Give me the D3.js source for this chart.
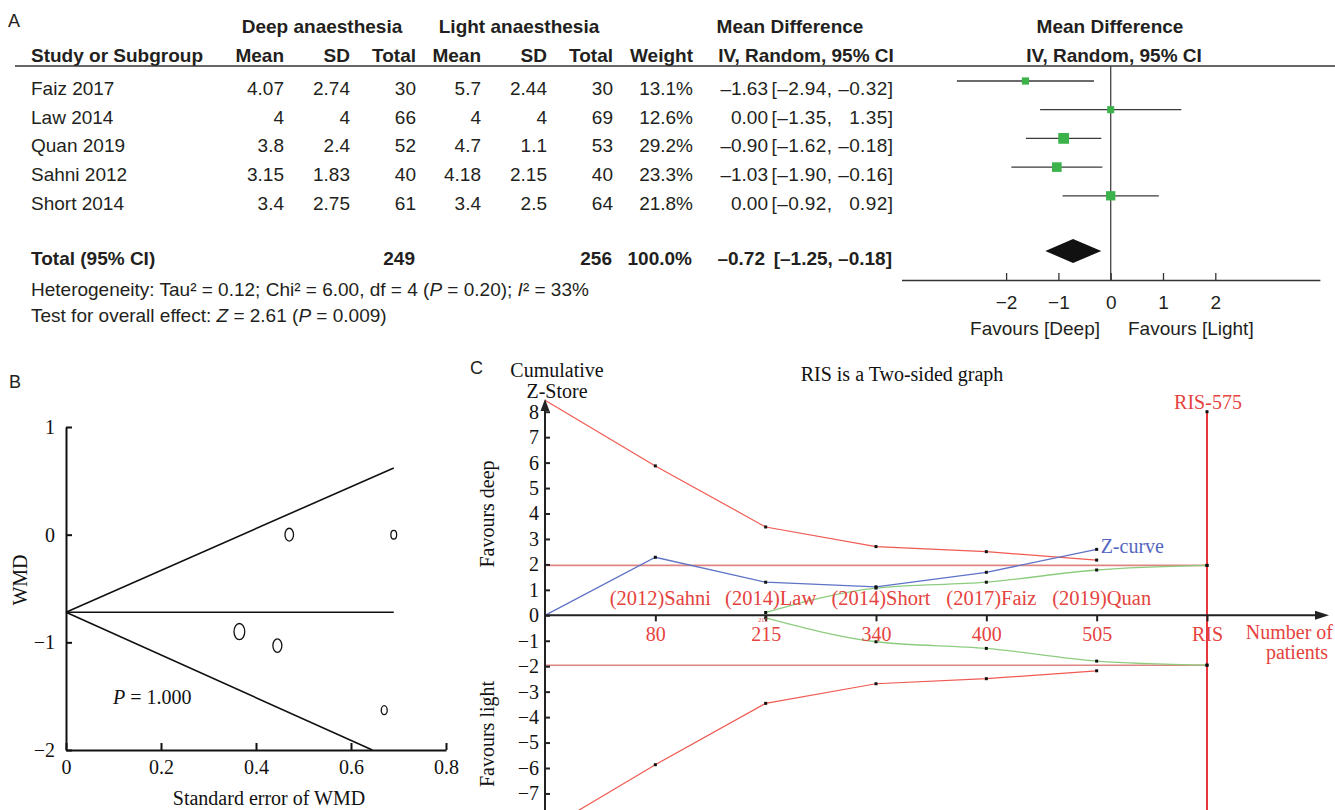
<!DOCTYPE html>
<html><head><meta charset="utf-8">
<script src="https://cdn.jsdelivr.net/npm/d3@7"></script>
<style>body{margin:0;background:#fff}svg{display:block;background:#fff}</style>
</head><body><svg id="c" width="1335" height="810"></svg>
<script>
// ---------- Panel A data ----------
const studies = ["Faiz 2017", "Law 2014", "Quan 2019", "Sahni 2012", "Short 2014"];
const deepMean = [4.07, 4, 3.8, 3.15, 3.4];
const deepSD = [2.74, 4, 2.4, 1.83, 2.75];
const deepTotal = [30, 66, 52, 40, 61];
const lightMean = [5.7, 4, 4.7, 4.18, 3.4];
const lightSD = [2.44, 4, 1.1, 2.15, 2.5];
const lightTotal = [30, 69, 53, 40, 64];
const weights = [13.1, 12.6, 29.2, 23.3, 21.8];
const md = [-1.63, 0.00, -0.90, -1.03, 0.00];
const ciLow = [-2.94, -1.35, -1.62, -1.90, -0.92];
const ciHigh = [-0.32, 1.35, -0.18, -0.16, 0.92];
const totalDeep = 249, totalLight = 256, totalWeight = 100.0;
const pooledMD = -0.72, pooledLow = -1.25, pooledHigh = -0.18;
const forestTicks = [-2, -1, 0, 1, 2];

// ---------- Panel B data ----------
const funnelSE = [0.67, 0.69, 0.365, 0.445, 0.47];
const funnelWMD = [-1.63, 0.00, -0.90, -1.03, 0.00];
const funnelUpper = [[0, -0.72], [0.69, 0.62]];
const funnelMid = [[0, -0.72], [0.69, -0.72]];
const funnelLower = [[0, -0.72], [0.645, -2]];
const funnelXTicks = [0, 0.2, 0.4, 0.6, 0.8];
const funnelYTicks = [-2, -1, 0, 1];

// ---------- Panel C data ----------
const tsaCats = ["0", "80", "215", "340", "400", "505", "RIS"];
const tsaStudyLabels = ["(2012)Sahni", "(2014)Law", "(2014)Short", "(2017)Faiz", "(2019)Quan"];
const zCurve = [0, 2.28, 1.30, 1.12, 1.69, 2.59];            // cats 0..505
const boundUpper = [8.45, 5.87, 3.47, 2.70, 2.50, 2.17];     // cats 0..505
const boundLower = [-8.45, -5.87, -3.46, -2.69, -2.49, -2.18];
const futilUpper = [0.11, 1.07, 1.30, 1.78, 1.96];            // cats 215..RIS
const futilLower = [-0.10, -1.04, -1.30, -1.80, -1.96];
const conventional = 1.96;
const tsaYTicks = [-7, -6, -5, -4, -3, -2, -1, 0, 1, 2, 3, 4, 5, 6, 7, 8];

// ---------- setup ----------
const svg = d3.select("#c");
const SANS = "'Liberation Sans', Arial, Helvetica, sans-serif";
const SERIF = "'Liberation Serif', 'Times New Roman', serif";
const INK = "#231f20";
const GREEN = "#3bb34a";
const RED = "#e5433e";
const FS = 19;

const fmtDash = v => (v < 0 ? "\u2013" : "\u2007") + Math.abs(v).toFixed(2);
const fmtMD = v => (v < 0 ? "\u2013" : "") + Math.abs(v).toFixed(2);
const fmtCI = (lo, hi) => "[" + fmtDash(lo) + ", " + fmtDash(hi) + "]";

// ================= PANEL A =================
const gA = svg.append("g").attr("font-family", SANS).attr("fill", INK).attr("font-size", FS);
gA.append("text").attr("x", 8).attr("y", 27).attr("font-size", 18).text("A");

const hdr1 = [["Deep anaesthesia", 322], ["Light anaesthesia", 519], ["Mean Difference", 790], ["Mean Difference", 1110]];
gA.selectAll("text.h1").data(hdr1).join("text").attr("class", "h1")
  .attr("x", d => d[1]).attr("y", 33).attr("text-anchor", "middle").attr("font-weight", "bold").text(d => d[0]);

const hdr2 = [["Study or Subgroup", 31, "start"], ["Mean", 284, "end"], ["SD", 350, "end"], ["Total", 416, "end"],
  ["Mean", 481, "end"], ["SD", 547, "end"], ["Total", 613, "end"], ["Weight", 693, "end"],
  ["IV, Random, 95% CI", 806, "middle"], ["IV, Random, 95% CI", 1114, "middle"]];
gA.selectAll("text.h2").data(hdr2).join("text").attr("class", "h2")
  .attr("x", d => d[1]).attr("y", 62).attr("text-anchor", d => d[2]).attr("font-weight", "bold").text(d => d[0]);

gA.append("line").attr("x1", 15).attr("x2", 1335).attr("y1", 66).attr("y2", 66)
  .attr("stroke", "#333").attr("stroke-width", 1.3);

const rowMark = d3.scalePoint().domain(studies).range([81, 81 + 4 * 28.7]);
const textOff = 14;
const idx = d3.range(studies.length);
const cols = [
  [i => studies[i], 31, "start", 0],
  [i => String(deepMean[i]), 284, "end", 0],
  [i => String(deepSD[i]), 350, "end", 0],
  [i => String(deepTotal[i]), 416, "end", 0],
  [i => String(lightMean[i]), 481, "end", 0],
  [i => String(lightSD[i]), 547, "end", 0],
  [i => String(lightTotal[i]), 613, "end", 0],
  [i => weights[i].toFixed(1) + "%", 693, "end", 0],
  [i => fmtMD(md[i]), 768, "end", 0],
  [i => fmtCI(ciLow[i], ciHigh[i]), 893.4, "end", 0.4]
];
cols.forEach((c, ci) => {
  gA.selectAll("text.col" + ci).data(idx).join("text").attr("class", "col" + ci)
    .attr("x", c[1]).attr("y", i => rowMark(studies[i]) + textOff)
    .attr("letter-spacing", c[3]).attr("xml:space", "preserve")
    .attr("text-anchor", c[2]).text(c[0]);
});

// total row
const totY = 251;
const totCells = [["Total (95% CI)", 31, "start"], [String(totalDeep), 415, "end"], [String(totalLight), 612, "end"],
  [totalWeight.toFixed(1) + "%", 692, "end"], [fmtMD(pooledMD), 765, "end"],
  [fmtCI(pooledLow, pooledHigh), 892, "end"]];
gA.selectAll("text.tot").data(totCells).join("text").attr("class", "tot")
  .attr("x", d => d[1]).attr("y", totY + textOff).attr("text-anchor", d => d[2]).attr("font-weight", "bold").text(d => d[0]);

// heterogeneity
const het = gA.append("text").attr("x", 31).attr("y", 296);
het.append("tspan").text("Heterogeneity: Tau\u00b2 = 0.12; Chi\u00b2 = 6.00, df = 4 (");
het.append("tspan").attr("font-style", "italic").text("P");
het.append("tspan").text(" = 0.20); ");
het.append("tspan").attr("font-style", "italic").text("I");
het.append("tspan").text("\u00b2 = 33%");
const ov = gA.append("text").attr("x", 31).attr("y", 322);
ov.append("tspan").text("Test for overall effect: ");
ov.append("tspan").attr("font-style", "italic").text("Z");
ov.append("tspan").text(" = 2.61 (");
ov.append("tspan").attr("font-style", "italic").text("P");
ov.append("tspan").text(" = 0.009)");

// forest plot
const xF = d3.scaleLinear().domain([-4, 4]).range([1110.7 - 4 * 52.3, 1110.7 + 4 * 52.3]);
const sq = d3.scaleSqrt().domain([0, 30]).range([0, 10.9]);
const gF = svg.append("g");
gF.append("line").attr("x1", xF(0)).attr("x2", xF(0)).attr("y1", 66).attr("y2", 280)
  .attr("stroke", "#444").attr("stroke-width", 1.3);
gF.selectAll("line.ci").data(idx).join("line").attr("class", "ci")
  .attr("x1", i => xF(ciLow[i])).attr("x2", i => xF(ciHigh[i]))
  .attr("y1", i => rowMark(studies[i])).attr("y2", i => rowMark(studies[i]))
  .attr("stroke", "#3a3a3a").attr("stroke-width", 1.3);
gF.selectAll("rect.sq").data(idx).join("rect").attr("class", "sq")
  .attr("x", i => xF(md[i]) - sq(weights[i]) / 2).attr("y", i => rowMark(studies[i]) - sq(weights[i]) / 2)
  .attr("width", i => sq(weights[i])).attr("height", i => sq(weights[i])).attr("fill", GREEN);
gF.append("path")
  .attr("d", `M${xF(pooledLow)},${totY}L${xF(pooledMD)},${totY - 12}L${xF(pooledHigh)},${totY}L${xF(pooledMD)},${totY + 12}Z`)
  .attr("fill", "#111");
const axF = gF.append("g").attr("transform", "translate(0,280)")
  .call(d3.axisBottom(xF).tickValues(forestTicks).tickSizeInner(-7).tickSizeOuter(0).tickPadding(16));
axF.attr("font-family", SANS).attr("font-size", FS);
axF.select(".domain").attr("stroke", "#333").attr("stroke-width", 1.3);
axF.selectAll(".tick line").attr("stroke", "#333").attr("stroke-width", 1.3);
axF.selectAll(".tick text").attr("fill", INK);
gF.append("text").attr("x", 1100).attr("y", 335).attr("text-anchor", "end").attr("font-family", SANS)
  .attr("font-size", FS).attr("fill", INK).text("Favours [Deep]");
gF.append("text").attr("x", 1128).attr("y", 335).attr("text-anchor", "start").attr("font-family", SANS)
  .attr("font-size", FS).attr("fill", INK).text("Favours [Light]");

// ================= PANEL B =================
const gB = svg.append("g").attr("font-family", SERIF).attr("fill", "#111");
svg.append("text").attr("x", 9).attr("y", 388).attr("font-family", SANS).attr("font-size", 18).attr("fill", INK).text("B");
const xB = d3.scaleLinear().domain([0, 0.8]).range([66, 446]);
const yB = d3.scaleLinear().domain([-2, 1]).range([750, 427]);
const lineB = d3.line().x(d => xB(d[0])).y(d => yB(d[1]));
[funnelUpper, funnelMid, funnelLower].forEach(l => {
  gB.append("path").attr("d", lineB(l)).attr("fill", "none").attr("stroke", "#111").attr("stroke-width", 1.6);
});
gB.selectAll("ellipse").data(idx).join("ellipse")
  .attr("cx", i => xB(funnelSE[i])).attr("cy", i => yB(funnelWMD[i]))
  .attr("rx", i => 1 + 0.15 * weights[i]).attr("ry", i => 1.5 * (1 + 0.15 * weights[i]))
  .attr("fill", "none").attr("stroke", "#111").attr("stroke-width", 1.3);
const axBy = gB.append("g").attr("transform", "translate(66,0)")
  .call(d3.axisLeft(yB).tickValues(funnelYTicks).tickFormat(d3.format("d")).tickSizeInner(-6).tickSizeOuter(0).tickPadding(11));
const axBx = gB.append("g").attr("transform", "translate(0,750)")
  .call(d3.axisBottom(xB).tickValues(funnelXTicks).tickFormat(d => d === 0 ? "0" : d.toFixed(1)).tickSizeInner(-7).tickSizeOuter(0).tickPadding(10));
[axBy, axBx].forEach(a => {
  a.attr("font-family", SERIF).attr("font-size", 20);
  a.select(".domain").attr("stroke", "#111").attr("stroke-width", 2);
  a.selectAll(".tick line").attr("stroke", "#111").attr("stroke-width", 2);
  a.selectAll(".tick text").attr("fill", "#111");
});
gB.append("text").attr("x", 269).attr("y", 805).attr("text-anchor", "middle").attr("font-size", 20).text("Standard error of WMD");
gB.append("text").attr("transform", "translate(27,580) rotate(-90)").attr("text-anchor", "middle").attr("font-size", 20).text("WMD");
const pt = gB.append("text").attr("x", 113).attr("y", 704).attr("font-size", 20);
pt.append("tspan").attr("font-style", "italic").text("P");
pt.append("tspan").text(" = 1.000");

// ================= PANEL C =================
const gC = svg.append("g").attr("font-family", SERIF);
svg.append("text").attr("x", 470).attr("y", 374).attr("font-family", SANS).attr("font-size", 18).attr("fill", INK).text("C");
const xC = d3.scalePoint().domain(tsaCats).range([545, 1207]);
const yC = d3.scaleLinear().domain([-8, 8]).range([615.3 + 8 * 25.45, 615.3 - 8 * 25.45]);
const lineC = d3.line().x(d => xC(d[0])).y(d => yC(d[1]));
const curveC = d3.line().x(d => xC(d[0])).y(d => yC(d[1])).curve(d3.curveMonotoneX);
const pair = (cats, vals) => vals.map((v, i) => [cats[i], v]);
const zPts = pair(tsaCats, zCurve);
const buPts = pair(tsaCats, boundUpper);
const blPts = pair(tsaCats, boundLower);
const fuPts = pair(tsaCats.slice(2), futilUpper);
const flPts = pair(tsaCats.slice(2), futilLower);

// conventional lines
[conventional, -conventional].forEach(v => {
  gC.append("line").attr("x1", xC("0")).attr("x2", xC("RIS")).attr("y1", yC(v)).attr("y2", yC(v))
    .attr("stroke", "#dd8580").attr("stroke-width", 1.6);
});
// boundaries
gC.append("path").attr("d", lineC(buPts)).attr("fill", "none").attr("stroke", "#ef5b52").attr("stroke-width", 1.2);
gC.append("path").attr("d", lineC(blPts)).attr("fill", "none").attr("stroke", "#ef5b52").attr("stroke-width", 1.2);
gC.append("path").attr("d", curveC(fuPts)).attr("fill", "none").attr("stroke", "#8dcc7f").attr("stroke-width", 1.3);
gC.append("path").attr("d", curveC(flPts)).attr("fill", "none").attr("stroke", "#8dcc7f").attr("stroke-width", 1.3);
gC.append("path").attr("d", lineC(zPts)).attr("fill", "none").attr("stroke", "#5f72c6").attr("stroke-width", 1.3);
// RIS vertical
gC.append("line").attr("x1", xC("RIS")).attr("x2", xC("RIS")).attr("y1", yC(8)).attr("y2", 810)
  .attr("stroke", "#e8363a").attr("stroke-width", 2);

// dots
const dots = [].concat(zPts.slice(1), buPts.slice(1), blPts.slice(1), fuPts, flPts,
  [["RIS", conventional], ["RIS", -conventional], ["RIS", 8]]);
gC.selectAll("rect.dot").data(dots).join("rect").attr("class", "dot")
  .attr("x", d => xC(d[0]) - 1.5).attr("y", d => yC(d[1]) - 1.5).attr("width", 3).attr("height", 3).attr("fill", "#111");

// y axis
const axCy = gC.append("g").attr("transform", `translate(${xC("0")},0)`)
  .call(d3.axisLeft(yC).tickValues(tsaYTicks).tickFormat(d3.format("d")).tickSizeInner(-5).tickSizeOuter(0).tickPadding(6));
axCy.select(".domain").remove();
axCy.attr("font-family", SERIF).attr("font-size", 20);
axCy.selectAll(".tick line").attr("stroke", "#222").attr("stroke-width", 2);
axCy.selectAll(".tick text").attr("fill", "#111");
gC.append("line").attr("x1", xC("0")).attr("x2", xC("0")).attr("y1", 812).attr("y2", 408).attr("stroke", "#222").attr("stroke-width", 2);
gC.append("path").attr("d", `M${xC("0")},399L${xC("0") - 4.5},411L${xC("0") + 4.5},411Z`).attr("fill", "#222");

// x axis
const axCx = gC.append("g").attr("transform", `translate(0,${yC(0)})`)
  .call(d3.axisBottom(xC).tickSizeInner(6).tickSizeOuter(0).tickPadding(6));
axCx.select(".domain").remove();
axCx.attr("font-family", SERIF).attr("font-size", 20);
axCx.selectAll(".tick line").attr("stroke", "#222").attr("stroke-width", 2).filter(d => d === "0").remove();
axCx.selectAll(".tick text").attr("fill", RED).filter(d => d === "0").remove();
gC.append("line").attr("x1", xC("0")).attr("x2", 1318).attr("y1", yC(0)).attr("y2", yC(0)).attr("stroke", "#222").attr("stroke-width", 2);
gC.append("path").attr("d", `M1329,${yC(0)}L1315,${yC(0) - 4.5}L1315,${yC(0) + 4.5}Z`).attr("fill", "#222");
gC.append("text").attr("x", xC("215") - 3).attr("y", yC(0) + 7).attr("text-anchor", "middle")
  .attr("font-size", 6).attr("fill", RED).text("215");

// study labels
gC.selectAll("text.sl").data(tsaStudyLabels).join("text").attr("class", "sl")
  .attr("x", (d, i) => xC(tsaCats[i + 1]) + 5).attr("y", 605).attr("text-anchor", "middle")
  .attr("font-size", 20.5).attr("fill", RED).text(d => d);

// texts
gC.append("text").attr("x", 557).attr("y", 377).attr("text-anchor", "middle").attr("font-size", 20).attr("fill", "#111").text("Cumulative");
gC.append("text").attr("x", 557).attr("y", 398).attr("text-anchor", "middle").attr("font-size", 20).attr("fill", "#111").text("Z-Store");
gC.append("text").attr("x", 902).attr("y", 381).attr("text-anchor", "middle").attr("font-size", 20).attr("fill", "#111").text("RIS is a Two-sided graph");
gC.append("text").attr("x", xC("RIS") + 1).attr("y", 409).attr("text-anchor", "middle").attr("font-size", 20).attr("fill", RED).text("RIS-575");
gC.append("text").attr("x", xC("505") + 4).attr("y", 553).attr("font-size", 20).attr("fill", "#5566c0").text("Z-curve");
gC.append("text").attr("x", 1333).attr("y", 639).attr("text-anchor", "end").attr("font-size", 20).attr("fill", RED).text("Number of");
gC.append("text").attr("x", 1297).attr("y", 659).attr("text-anchor", "middle").attr("font-size", 20).attr("fill", RED).text("patients");
gC.append("text").attr("transform", "translate(494,514) rotate(-90)").attr("text-anchor", "middle").attr("font-size", 20).attr("fill", "#111").text("Favours deep");
gC.append("text").attr("transform", "translate(494,734) rotate(-90)").attr("text-anchor", "middle").attr("font-size", 20).attr("fill", "#111").text("Favours light");
</script>
</body></html>
